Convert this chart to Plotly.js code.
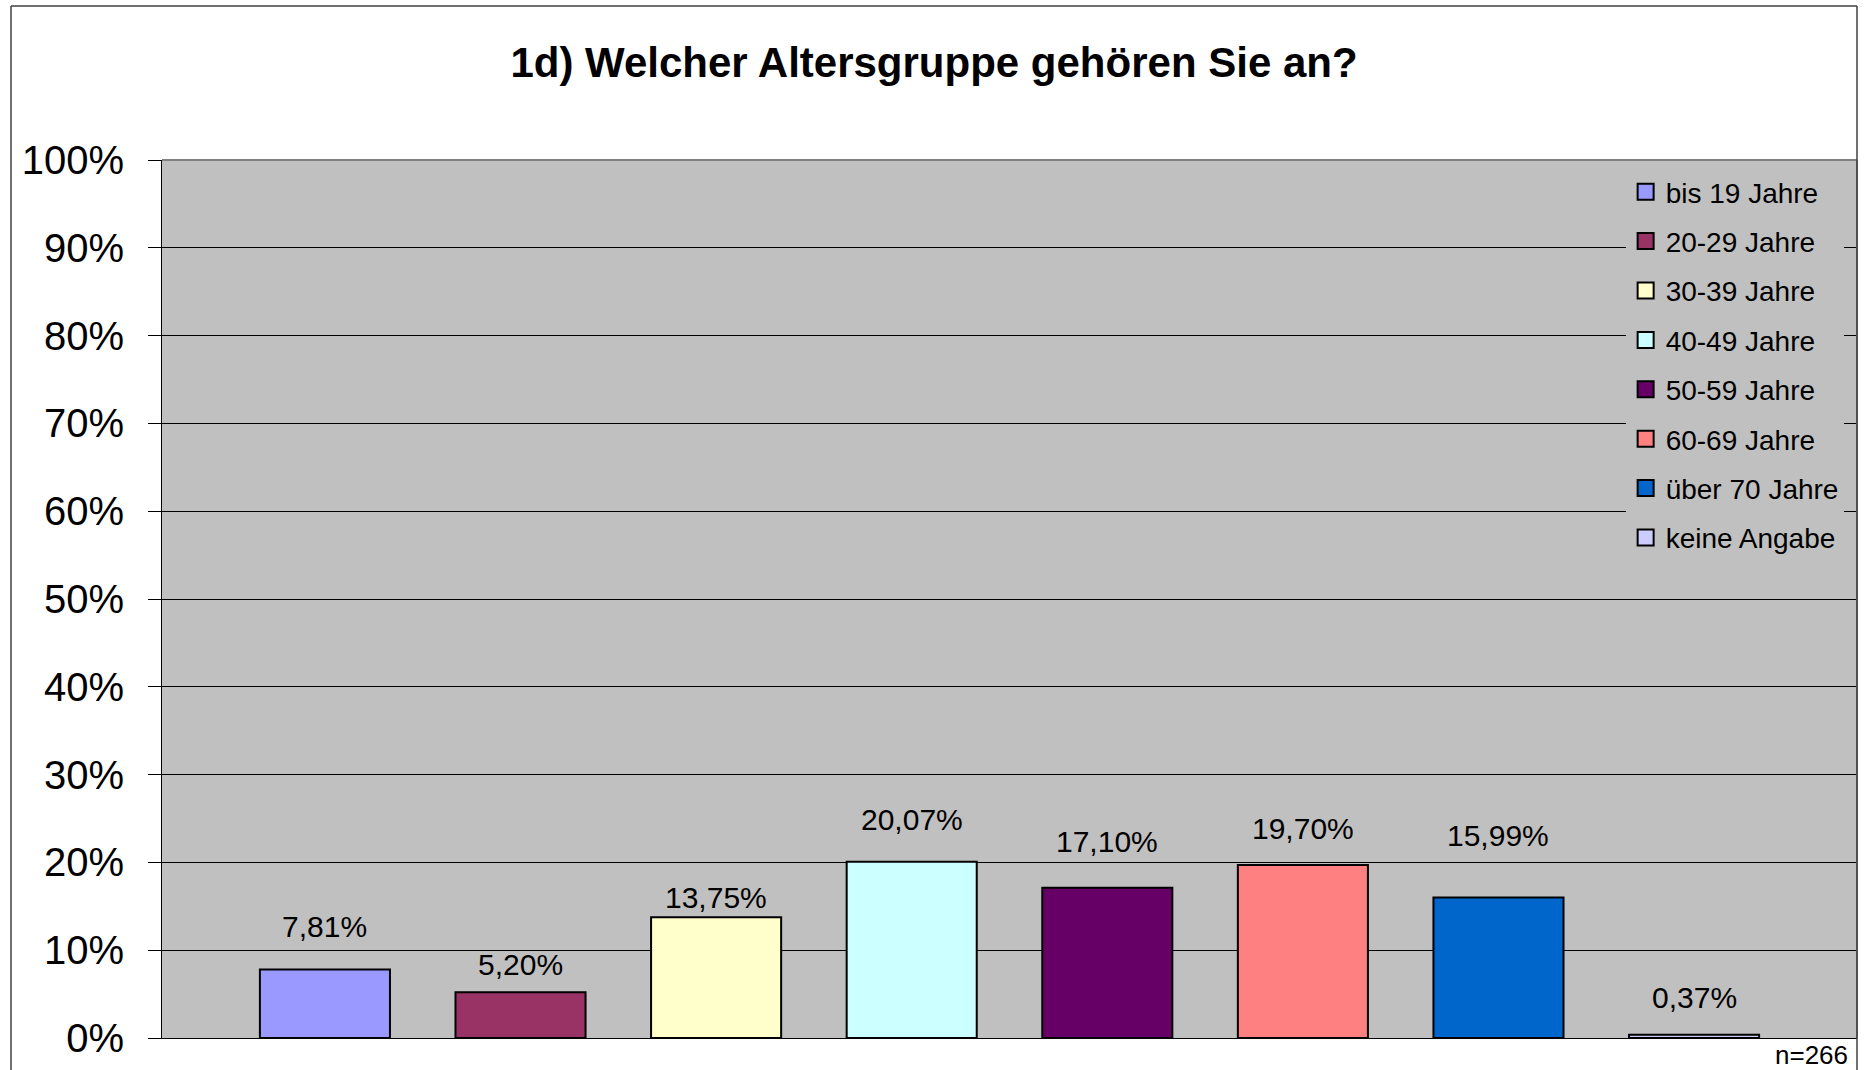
<!DOCTYPE html>
<html>
<head>
<meta charset="utf-8">
<script src="https://cdn.plot.ly/plotly-3.0.1.min.js"></script>
<style>html,body{margin:0;padding:0;background:#fff;}#chart{width:1866px;height:1070px;}</style>
</head>
<body>
<div id="chart"></div>
<script>
const categories = ["bis 19 Jahre","20-29 Jahre","30-39 Jahre","40-49 Jahre","50-59 Jahre","60-69 Jahre","über 70 Jahre","keine Angabe"];
const values = [7.81, 5.20, 13.75, 20.07, 17.10, 19.70, 15.99, 0.37];
const colors = ["#9999FF","#993366","#FFFFCC","#CCFFFF","#660066","#FF8080","#0066CC","#CCCCFF"];
const tickVals = [0,10,20,30,40,50,60,70,80,90,100];
const tickText = ["0%","10%","20%","30%","40%","50%","60%","70%","80%","90%","100%"];
const titleText = "1d) Welcher Altersgruppe gehören Sie an?";
const noteText = "n=266";

// style: pixel offset of each data label above its bar (labels were placed by hand in the original)
const labelShift = [43, 28, 20, 42, 46, 37, 62, 37];

const FONT = "Liberation Sans, Arial, sans-serif";

const barTraces = categories.map((c, i) => ({
  type: 'bar',
  name: c,
  x: [i],
  y: [values[i]],
  width: 0.665,
  marker: {color: colors[i], line: {color: '#000000', width: 2}},
  showlegend: false,
  hoverinfo: 'skip'
}));

const legendTraces = categories.map((c, i) => ({
  type: 'scatter',
  mode: 'markers',
  name: c,
  x: [null],
  y: [null],
  marker: {symbol: 'square', size: 16, color: colors[i], line: {color: '#000000', width: 2}},
  legendgroup: 'g' + i,
  showlegend: true,
  hoverinfo: 'skip'
}));

const annotations = values.map((v, i) => ({
  x: i, y: v, xref: 'x', yref: 'y',
  text: v.toFixed(2).replace('.', ',') + '%',
  showarrow: false,
  yanchor: 'middle',
  yshift: labelShift[i],
  font: {family: FONT, size: 30, color: '#000000'}
}));
annotations.push({
  xref: 'paper', yref: 'paper', x: 0.9959, y: (1038 - 1055) / 878,
  xanchor: 'right', yanchor: 'middle',
  text: noteText, showarrow: false,
  font: {family: FONT, size: 26, color: '#000000'}
});

const layout = {
  width: 1866, height: 1070,
  margin: {l: 162, r: 9, t: 160, b: 32, pad: 0},
  paper_bgcolor: '#FFFFFF',
  plot_bgcolor: '#C0C0C0',
  separators: ',.',
  title: {text: '<b>' + titleText + '</b>', x: 934 / 1866, xref: 'container', xanchor: 'center', y: 1 - 62/1070, yanchor: 'middle',
          font: {family: FONT, size: 42, color: '#000000'}},
  barmode: 'overlay',
  showlegend: true,
  legend: {
    x: 0.8635, y: 0.992, xanchor: 'left', yanchor: 'top',
    bgcolor: '#C0C0C0', borderwidth: 0,
    font: {family: FONT, size: 28, color: '#000000'},
    traceorder: 'grouped', tracegroupgap: 10,
    itemwidth: 30
  },
  xaxis: {
    range: [-0.833, 7.833],
    showticklabels: false, ticks: '', showgrid: false, zeroline: false,
    showline: true, linecolor: '#000000', linewidth: 1,
    fixedrange: true
  },
  yaxis: {
    range: [0, 100],
    tickvals: tickVals, ticktext: tickText,
    ticks: 'outside', ticklen: 13, tickcolor: '#000000', tickwidth: 1,
    showgrid: true, gridcolor: '#000000', gridwidth: 1,
    zeroline: false,
    showline: true, linecolor: '#000000', linewidth: 1,
    tickfont: {family: FONT, size: 40, color: '#000000'},
    ticklabelstandoff: 16,
    fixedrange: true
  },
  shapes: [
    {type: 'line', xref: 'paper', yref: 'paper', x0: 0, x1: 1, y0: 1, y1: 1, line: {color: '#808080', width: 2}},
    {type: 'line', xref: 'paper', yref: 'paper', x0: 1, x1: 1, y0: 0, y1: 1, line: {color: '#808080', width: 2}},
    {type: 'line', xref: 'paper', yref: 'paper', x0: (11-162)/1695, x1: (11-162)/1695, y0: -0.1, y1: (1038-6)/878, line: {color: '#404040', width: 1.5}},
    {type: 'line', xref: 'paper', yref: 'paper', x0: (11-162)/1695, x1: 1, y0: (1038-6)/878, y1: (1038-6)/878, line: {color: '#404040', width: 1.5}},
    {type: 'line', xref: 'paper', yref: 'paper', x0: 1, x1: 1, y0: -0.1, y1: (1038-6)/878, line: {color: '#404040', width: 1.5}}
  ],
  annotations: annotations
};

Plotly.newPlot('chart', barTraces.concat(legendTraces), layout, {displayModeBar: false, staticPlot: true});
</script>
</body>
</html>
